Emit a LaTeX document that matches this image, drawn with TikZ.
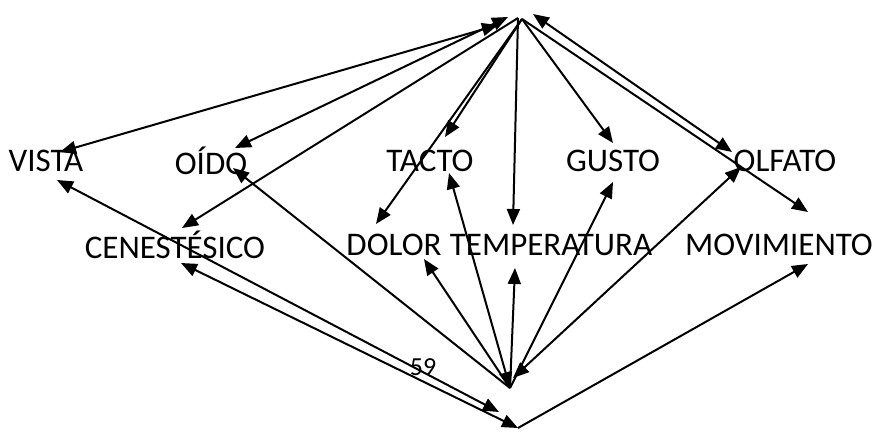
\documentclass[tikz,border=0pt]{standalone}
\usepackage{fontspec}
\setmainfont{Carlito}
\usetikzlibrary{arrows.meta}
\begin{document}
\begin{tikzpicture}[x=1pt,y=-1pt,
  lbl/.style={inner sep=0pt, font=\fontsize{33}{38}\selectfont},
  num/.style={inner sep=0pt, font=\fontsize{26}{30}\selectfont},
  conn/.style={line width=2pt, -{Triangle[length=16pt,width=13pt]}},
  bconn/.style={line width=2pt, {Triangle[length=16pt,width=13pt]}-{Triangle[length=16pt,width=13pt]}}]
\useasboundingbox (0,0) rectangle (876,434);
% labels
\node[lbl] (vista) at (46,161) {VISTA};
\node[lbl] (oido) at (211,161) {OÍDO};
\node[lbl] (tacto) at (430,161) {TACTO};
\node[lbl] (gusto) at (613,161) {GUSTO};
\node[lbl] (olfato) at (785,161) {OLFATO};
\node[lbl] (cene) at (175,245) {CENESTÉSICO};
\node[lbl] (dolor) at (394,245) {DOLOR};
\node[lbl] (temp) at (551,245) {TEMPERATURA};
\node[lbl] (movi) at (779,245) {MOVIMIENTO};
\node[num] (n59) at (423,367) {59};
% top ends
\coordinate (ta) at (498,25);
\coordinate (tb) at (508,17);
\coordinate (tc) at (518,18);
\coordinate (td) at (522,19);
\coordinate (te) at (533,14);
% bottom ends
\coordinate (ba) at (510,388);
\coordinate (bd) at (513,378);
\coordinate (bb) at (499,412);
\coordinate (bc) at (518,428);
% tips near labels
\coordinate (vistaT) at (60,152);
\coordinate (vistaB) at (57,180);
\coordinate (oidoT) at (235,148);
\coordinate (oidoB) at (233,168);
\coordinate (tactoT) at (445,137);
\coordinate (tactoB) at (449,173);
\coordinate (gustoT) at (613,143);
\coordinate (gustoB) at (613,182);
\coordinate (olfatoT) at (732,152);
\coordinate (olfatoB) at (741,167);
\coordinate (ceneT) at (182,228);
\coordinate (ceneB) at (181,263);
\coordinate (dolorT) at (376,224);
\coordinate (dolorB) at (424,259);
\coordinate (tempT) at (513,225);
\coordinate (tempB) at (515,268);
\coordinate (moviT) at (808,212);
\coordinate (moviB) at (808,264);
% top connectors
\draw[bconn] (vistaT) -- (ta);
\draw[bconn] (oidoT) -- (tb);
\draw[conn] (tc) -- (ceneT);
\draw[conn] (td) -- (tactoT);
\draw[conn] (td) -- (dolorT);
\draw[conn] (tc) -- (tempT);
\draw[conn] (td) -- (gustoT);
\draw[bconn] (olfatoT) -- (te);
\draw[conn] (td) -- (moviT);
% bottom connectors
\draw[bconn] (vistaB) -- (bb);
\draw[conn] (ba) -- (oidoB);
\draw[bconn] (tactoB) -- (ba);
\draw[conn] (ba) -- (dolorB);
\draw[conn] (ba) -- (tempB);
\draw[conn] (ba) -- (gustoB);
\draw[bconn] (olfatoB) -- (bd);
\draw[bconn] (ceneB) -- (bc);
\draw[conn] (bc) -- (moviB);
\end{tikzpicture}
\end{document}
